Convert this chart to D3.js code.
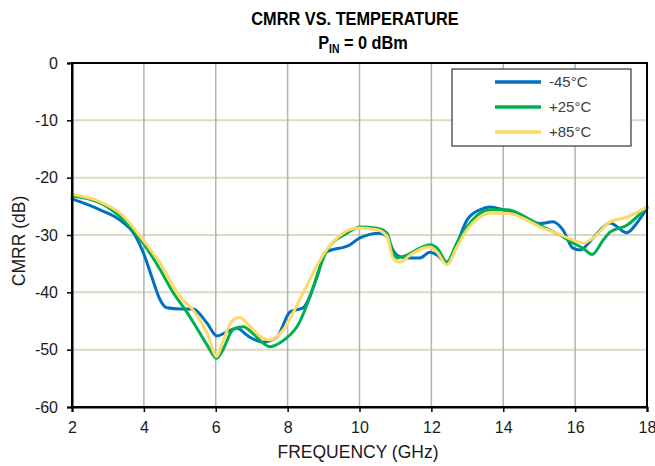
<!DOCTYPE html>
<html><head><meta charset="utf-8">
<script src="https://cdn.jsdelivr.net/npm/d3@7"></script>
<style>html,body{margin:0;padding:0;background:#fff;}svg{display:block;}</style>
</head><body>
<svg id="c" width="655" height="466"></svg>
<script>
const xTicks = [2,4,6,8,10,12,14,16,18];
const yTicks = [0,-10,-20,-30,-40,-50,-60];
const seriesNames = ["-45°C","+25°C","+85°C"];
const seriesColors = ["#0070C0","#00B050","#FFD966"];

const freqM45 = [2.00,2.78,3.34,3.75,3.98,4.23,4.45,4.64,5.01,5.37,5.76,6.03,6.31,6.59,6.87,7.31,7.70,8.07,8.43,8.82,9.04,9.74,10.01,10.57,10.77,10.93,11.13,11.41,11.68,11.96,12.16,12.43,12.71,12.99,13.35,13.63,13.99,14.55,15.02,15.38,15.66,15.94,16.14,16.50,16.97,17.44,17.72,18.00];
const cmrrM45 = [-23.7,-25.6,-27.4,-30.0,-33.0,-37.5,-41.3,-42.7,-42.9,-42.9,-45.4,-47.6,-46.9,-46.2,-47.5,-48.7,-47.8,-43.4,-42.7,-37.3,-33.1,-31.7,-30.5,-29.7,-30.3,-32.6,-33.8,-34.0,-34.0,-33.0,-33.5,-34.9,-31.5,-27.4,-25.6,-25.1,-25.6,-26.9,-28.0,-27.7,-29.1,-32.3,-32.6,-30.5,-27.9,-29.6,-27.9,-25.3];

const freqP25 = [2.00,2.78,3.34,3.98,4.45,4.81,5.20,5.48,5.76,6.03,6.20,6.48,6.76,7.04,7.31,7.51,7.79,8.07,8.26,8.62,8.90,9.10,9.65,10.01,10.49,10.77,10.93,11.04,11.32,11.68,11.96,12.16,12.43,12.71,12.99,13.35,13.63,14.10,14.66,15.02,15.58,15.94,16.22,16.47,16.78,16.97,17.44,18.00];
const cmrrP25 = [-23.2,-24.4,-26.8,-31.4,-36.0,-40.0,-43.5,-46.3,-49.2,-51.5,-50.0,-46.5,-46.0,-47.2,-48.8,-49.5,-48.8,-47.4,-46.0,-40.8,-35.6,-32.6,-29.7,-28.6,-28.8,-29.7,-33.1,-34.0,-33.5,-32.3,-31.7,-32.3,-34.7,-31.4,-28.6,-26.2,-25.6,-25.6,-27.0,-28.3,-30.0,-31.4,-32.3,-33.4,-30.9,-29.5,-28.3,-25.1];

const freqP85 = [2.00,2.78,3.34,3.98,4.45,5.01,5.37,5.76,6.03,6.20,6.48,6.67,6.87,7.31,7.51,7.87,8.43,8.90,9.04,9.54,9.96,10.49,10.77,10.93,11.13,11.41,11.77,11.96,12.16,12.43,12.71,12.99,13.35,13.63,14.10,14.66,15.02,15.50,15.94,16.22,16.50,16.97,17.44,18.00];
const cmrrP85 = [-22.9,-24.2,-26.2,-30.9,-34.9,-40.8,-43.1,-47.1,-51.2,-48.5,-44.8,-44.4,-45.4,-48.0,-48.3,-46.6,-40.1,-34.4,-33.0,-29.7,-28.8,-29.1,-30.3,-34.0,-34.7,-33.5,-32.3,-32.1,-33.0,-35.2,-32.1,-29.1,-26.9,-26.2,-26.2,-27.4,-28.6,-29.7,-30.9,-31.4,-30.5,-27.7,-26.9,-25.1];

const series = [
  {name: seriesNames[0], color: seriesColors[0], f: freqM45, v: cmrrM45},
  {name: seriesNames[1], color: seriesColors[1], f: freqP25, v: cmrrP25},
  {name: seriesNames[2], color: seriesColors[2], f: freqP85, v: cmrrP85}
];

const svg = d3.select("#c");
const L = 72, R = 647, T = 63, B = 407;
const x = d3.scaleLinear().domain([2,18]).range([L,R]);
const y = d3.scaleLinear().domain([-60,0]).range([B,T]);
const font = "'Liberation Sans', Arial, sans-serif";

// horizontal gridlines
svg.append("g").selectAll("line").data(yTicks.filter(d => d > -60 && d < 0)).join("line")
  .attr("x1", L).attr("x2", R).attr("y1", d => y(d)).attr("y2", d => y(d))
  .attr("stroke", "#DDD9C3").attr("stroke-width", 2);
// vertical gridlines
svg.append("g").selectAll("line").data(xTicks.filter(d => d > 2 && d < 18)).join("line")
  .attr("y1", T).attr("y2", B).attr("x1", d => x(d)).attr("x2", d => x(d))
  .attr("stroke", "#B3B3B3").attr("stroke-width", 1.5);

// lines
const line = d3.line().x(d => x(d[0])).y(d => y(d[1])).curve(d3.curveMonotoneX);
svg.append("g").selectAll("path").data(series).join("path")
  .attr("d", s => line(s.f.map((f,i) => [f, s.v[i]])))
  .attr("fill", "none").attr("stroke", s => s.color).attr("stroke-width", 3)
  .attr("stroke-linejoin", "round").attr("stroke-linecap", "round");

// frame
svg.append("rect").attr("x", L).attr("y", T).attr("width", R-L).attr("height", B-T)
  .attr("fill", "none").attr("stroke", "#000").attr("stroke-width", 2);

// axes
const xAxis = svg.append("g").attr("transform", `translate(0,${B})`)
  .call(d3.axisBottom(x).tickValues(xTicks).tickSize(5).tickFormat(d => String(d)));
const yAxis = svg.append("g").attr("transform", `translate(${L},0)`)
  .call(d3.axisLeft(y).tickValues(yTicks).tickSize(5).tickPadding(9).tickFormat(d => String(d)));
[xAxis, yAxis].forEach(a => {
  a.select(".domain").attr("stroke", "#000").attr("stroke-width", 2);
  a.selectAll(".tick line").attr("stroke", "#000").attr("stroke-width", 1.5);
  a.selectAll("text").attr("font-family", font).attr("font-size", 16).attr("fill", "#1a1a1a");
});
xAxis.selectAll("text").attr("y", 26).attr("dy", 0);

// axis titles
svg.append("text").attr("x", 358).attr("y", 458).attr("text-anchor", "middle")
  .attr("font-family", font).attr("font-size", 17.5).attr("fill", "#1a1a1a").text("FREQUENCY (GHz)");
svg.append("text").attr("transform", `translate(25,241) rotate(-90)`).attr("text-anchor", "middle")
  .attr("font-family", font).attr("font-size", 17.5).attr("fill", "#1a1a1a").text("CMRR (dB)");

// title
svg.append("text").attr("transform", "translate(355,25) scale(0.86,1)").attr("text-anchor", "middle")
  .attr("font-family", font).attr("font-size", 19).attr("font-weight", "bold").text("CMRR VS. TEMPERATURE");
const sub = svg.append("text").attr("transform", "translate(363,49) scale(0.86,1)").attr("text-anchor", "middle")
  .attr("font-family", font).attr("font-size", 19).attr("font-weight", "bold");
sub.append("tspan").text("P");
sub.append("tspan").attr("font-size", 12).attr("dy", 4).text("IN");
sub.append("tspan").attr("dy", -4).text(" = 0 dBm");

// legend
const lg = svg.append("g");
lg.append("rect").attr("x", 452).attr("y", 69).attr("width", 179).attr("height", 77)
  .attr("fill", "#fff").attr("stroke", "#333").attr("stroke-width", 1.2);
const items = lg.selectAll("g").data(series).join("g")
  .attr("transform", (d,i) => `translate(0,${82 + i*25})`);
items.append("line").attr("x1", 495).attr("x2", 541).attr("y1", 0).attr("y2", 0)
  .attr("stroke", d => d.color).attr("stroke-width", 3.5);
items.append("text").attr("x", 549).attr("y", 0).attr("dy", "0.35em")
  .attr("font-family", font).attr("font-size", 15).attr("fill", "#404040").text(d => d.name);
</script>
</body></html>
